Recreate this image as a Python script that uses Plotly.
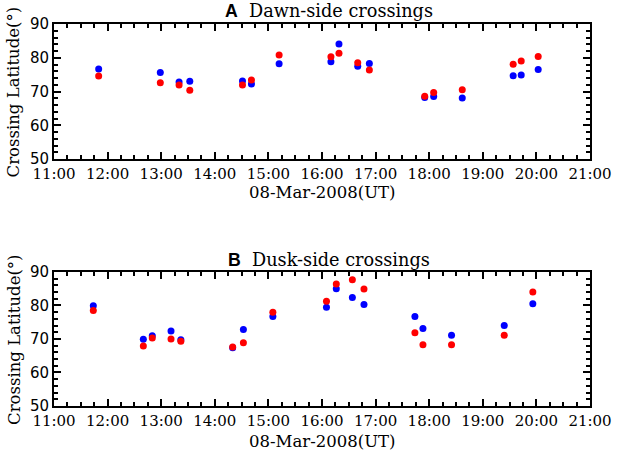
import plotly.graph_objects as go

# crossing times (UT, 08-Mar-2008) and latitudes
day = '2008-03-08 '

dawn_time = ['11:50', '12:59', '13:20', '13:32', '14:31', '14:41', '15:12', '16:10', '16:19',
             '16:40', '16:53', '17:55', '18:05', '18:37', '19:34', '19:43', '20:02']
dawn_blue = [76.7, 75.6, 72.8, 73.0, 73.1, 72.2, 78.2, 78.8, 84.1,
             77.5, 78.3, 68.2, 68.5, 68.1, 74.7, 74.9, 76.5]
dawn_red = [74.6, 72.6, 71.9, 70.4, 71.9, 73.4, 80.8, 80.3, 81.3,
            78.5, 76.4, 68.6, 69.7, 70.5, 78.1, 79.0, 80.4]

dusk_time = ['11:44', '12:40', '12:50', '13:11', '13:22', '14:20', '14:32', '15:05', '16:05',
             '16:16', '16:34', '16:47', '17:44', '17:53', '18:25', '19:24', '19:56']
dusk_blue = [79.9, 69.9, 71.0, 72.4, 69.8, 67.4, 72.8, 76.7, 79.5,
             85.0, 82.4, 80.3, 76.7, 73.1, 71.1, 74.0, 80.5]
dusk_red = [78.5, 67.9, 70.3, 70.0, 69.3, 67.6, 68.9, 78.0, 81.3,
            86.4, 87.7, 84.9, 71.9, 68.3, 68.3, 71.1, 84.0]

serif = 'DejaVu Serif'
sans = 'DejaVu Sans'

fig = go.Figure()

panels = [(dawn_time, dawn_blue, dawn_red, 'x', 'y'),
          (dusk_time, dusk_blue, dusk_red, 'x2', 'y2')]
for t, b, r, xa, ya in panels:
    tt = [day + s for s in t]
    fig.add_trace(go.Scatter(x=tt, y=b, mode='markers', xaxis=xa, yaxis=ya,
                             marker=dict(color='#0000ff', size=7), showlegend=False))
    fig.add_trace(go.Scatter(x=tt, y=r, mode='markers', xaxis=xa, yaxis=ya,
                             marker=dict(color='#ff0000', size=7), showlegend=False))

xax = dict(type='date', range=[day + '11:00', day + '21:00'], dtick=3600000,
           tickformat='%H:%M', ticks='inside', ticklen=7, tickwidth=1.5, tickcolor='black',
           showline=True, linecolor='black', linewidth=2, mirror='allticks',
           showgrid=False, zeroline=False,
           minor=dict(dtick=900000, ticks='inside', ticklen=4, tickcolor='black', showgrid=False),
           tickfont=dict(family=serif, size=15, color='black'))
yax = dict(range=[50, 90], dtick=10, ticks='inside', ticklen=7, tickwidth=1.5, tickcolor='black',
           showline=True, linecolor='black', linewidth=2, mirror='allticks',
           showgrid=False, zeroline=False,
           minor=dict(dtick=2, ticks='inside', ticklen=4, tickcolor='black', showgrid=False),
           tickfont=dict(family=sans, size=15, color='black'))

fig.update_layout(
    width=624, height=455,
    margin=dict(l=54, r=24, t=24, b=49),
    plot_bgcolor='white', paper_bgcolor='white',
    xaxis=dict(xax, domain=[0, 1], anchor='y'),
    yaxis=dict(yax, domain=[0.6466, 1], anchor='x'),
    xaxis2=dict(xax, domain=[0, 1], anchor='y2'),
    yaxis2=dict(yax, domain=[0, 0.3508], anchor='x2'),
)

def note(text, x, y, size, angle=0):
    fig.add_annotation(text=text, x=x, y=y, xref='paper', yref='paper', showarrow=False,
                       textangle=angle, xanchor='center', yanchor='middle',
                       font=dict(family=serif, size=size, color='black'))

note('<span style="font-family:Liberation Sans"><b>A</b></span>  Dawn-side crossings', 0.513, 1.034, 17.7)
note('<span style="font-family:Liberation Sans"><b>B</b></span>  Dusk-side crossings', 0.513, 0.382, 17.7)
note('08-Mar-2008(UT)', 0.5, 0.5576, 16.5)
note('08-Mar-2008(UT)', 0.5, -0.094, 16.5)
note('Crossing Latitude(°)', -0.075, 0.823, 16.5, -90)
note('Crossing Latitude(°)', -0.075, 0.175, 16.5, -90)

# drop the default body margin so the figure fills the window
fig.write_html('out.html', config={'displayModeBar': False},
               post_script="document.body.style.margin='0';")
